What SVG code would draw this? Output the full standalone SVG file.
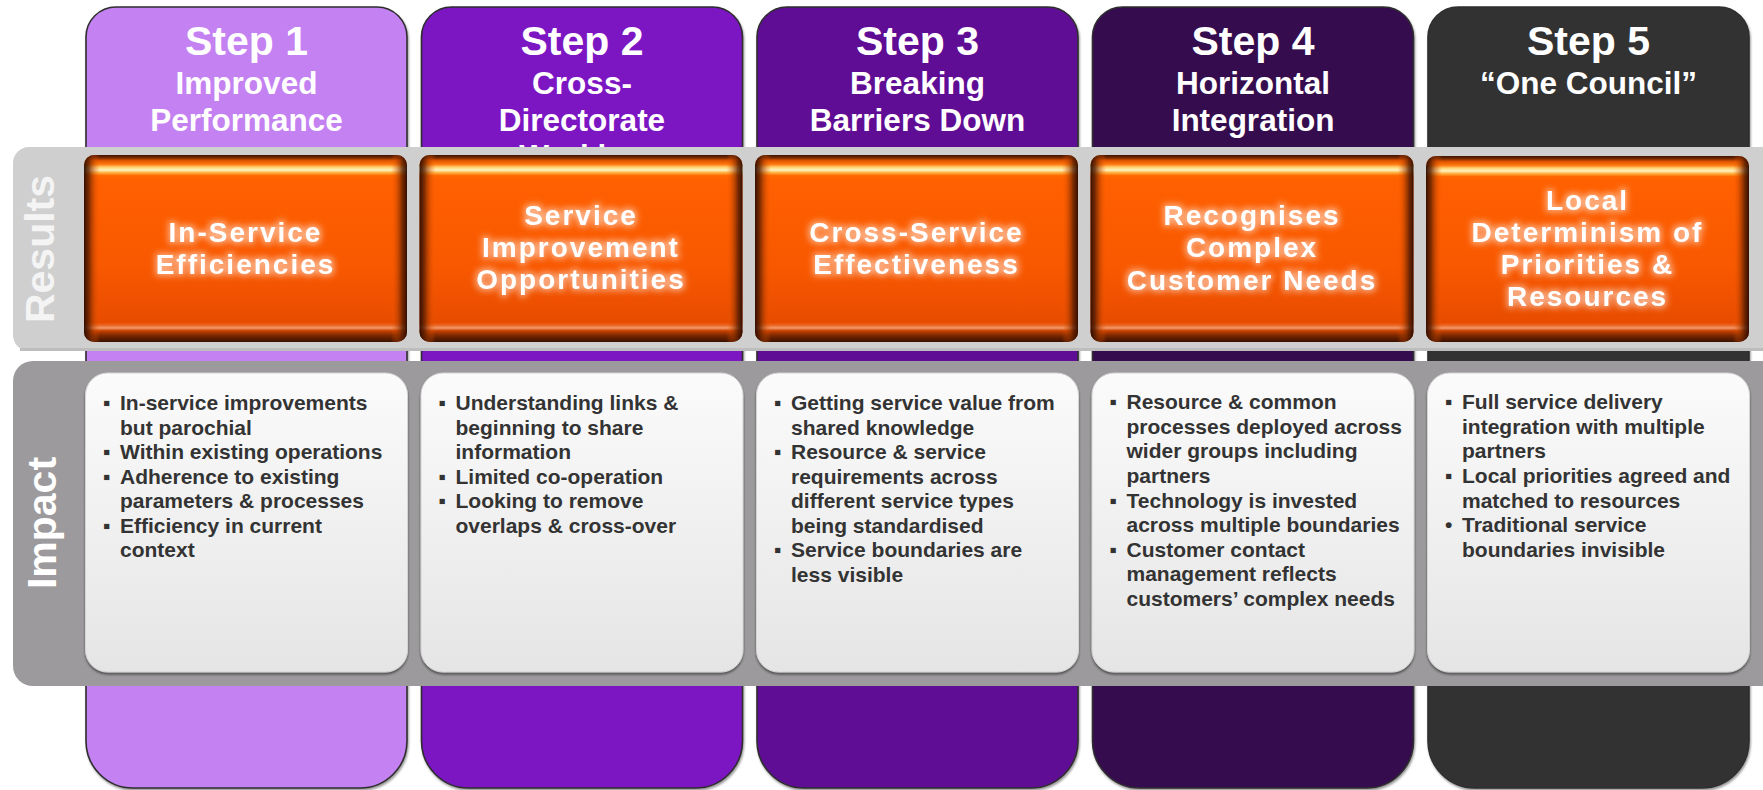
<svg xmlns="http://www.w3.org/2000/svg" width="1763" height="790" viewBox="0 0 1763 790">
<defs>
<style>
.ttl{font-family:"Liberation Sans",Arial,sans-serif;font-weight:bold;fill:#ffffff;text-anchor:middle}
.big{font-size:41px}
.sub{font-size:31.5px}
.res{font-family:"Liberation Sans",Arial,sans-serif;font-weight:bold;font-size:28px;letter-spacing:2px;fill:#ffffff;text-anchor:middle}
.side{font-family:"Liberation Sans",Arial,sans-serif;font-weight:bold;font-size:41px;text-anchor:middle}
.imp{font-family:"Liberation Sans",Arial,sans-serif;font-weight:bold;font-size:21px;fill:#333333}
.bul{font-family:"Liberation Sans",Arial,sans-serif;font-weight:bold;font-size:21px;fill:#333333}
.col{stroke:#2e2e2e;stroke-width:1.6}
</style>
<linearGradient id="og" x1="0" y1="0" x2="0" y2="1">
<stop offset="0" stop-color="#3a1200"/>
<stop offset="0.015" stop-color="#7a2a00"/>
<stop offset="0.03" stop-color="#e05400"/>
<stop offset="0.05" stop-color="#ff7a10"/>
<stop offset="0.065" stop-color="#ffd070"/>
<stop offset="0.08" stop-color="#fff4c0"/>
<stop offset="0.095" stop-color="#ffb040"/>
<stop offset="0.11" stop-color="#ff6a00"/>
<stop offset="0.13" stop-color="#ff6000"/>
<stop offset="0.6" stop-color="#f85800"/>
<stop offset="0.895" stop-color="#e84c00"/>
<stop offset="0.91" stop-color="#ea6424"/>
<stop offset="0.925" stop-color="#f39a6a"/>
<stop offset="0.94" stop-color="#c84000"/>
<stop offset="0.965" stop-color="#7a2800"/>
<stop offset="1" stop-color="#3a1000"/>
</linearGradient>
<linearGradient id="oside" x1="0" y1="0" x2="1" y2="0">
<stop offset="0" stop-color="#2a0a00" stop-opacity="0.95"/>
<stop offset="0.015" stop-color="#5a1e00" stop-opacity="0.8"/>
<stop offset="0.035" stop-color="#c04400" stop-opacity="0.35"/>
<stop offset="0.05" stop-color="#ff6000" stop-opacity="0"/>
<stop offset="0.95" stop-color="#ff6000" stop-opacity="0"/>
<stop offset="0.965" stop-color="#c04400" stop-opacity="0.35"/>
<stop offset="0.985" stop-color="#5a1e00" stop-opacity="0.8"/>
<stop offset="1" stop-color="#2a0a00" stop-opacity="0.95"/>
</linearGradient>
<linearGradient id="ig" x1="0" y1="0" x2="0" y2="1">
<stop offset="0" stop-color="#fbfbfb"/>
<stop offset="1" stop-color="#e5e5e5"/>
</linearGradient>
<filter id="glow" x="-20%" y="-40%" width="140%" height="180%">
<feMorphology in="SourceAlpha" operator="dilate" radius="2" result="d"/>
<feGaussianBlur in="d" stdDeviation="3" result="b"/>
<feFlood flood-color="#ffffff" flood-opacity="0.5"/>
<feComposite in2="b" operator="in" result="g"/>
<feMerge><feMergeNode in="g"/><feMergeNode in="SourceGraphic"/></feMerge>
</filter>
<filter id="shd" x="-5%" y="-5%" width="110%" height="110%">
<feDropShadow dx="0" dy="2" stdDeviation="1" flood-color="#222222" flood-opacity="0.6"/>
</filter>
<filter id="cshd" x="-5%" y="-5%" width="110%" height="110%">
<feDropShadow dx="1" dy="2" stdDeviation="1.2" flood-color="#555555" flood-opacity="0.6"/>
</filter>
</defs>

<rect width="1763" height="790" fill="#ffffff"/>

<g id="columns">
<g id="step1-column">
<path class="col" filter="url(#cshd)" fill="#c481f2" d="M86,37 A30,30 0 0 1 116,7 H377 A30,30 0 0 1 407,37 V741 A47,47 0 0 1 360,788 H133 A47,47 0 0 1 86,741 Z"/>
<text class="ttl big" x="246.5" y="55">Step 1</text>
<text class="ttl sub" x="246.5" y="94">Improved</text>
<text class="ttl sub" x="246.5" y="131">Performance</text>
</g>
<g id="step2-column">
<path class="col" filter="url(#cshd)" fill="#7b13c3" d="M421.5,37 A30,30 0 0 1 451.5,7 H712.5 A30,30 0 0 1 742.5,37 V741 A47,47 0 0 1 695.5,788 H468.5 A47,47 0 0 1 421.5,741 Z"/>
<text class="ttl big" x="582" y="55">Step 2</text>
<text class="ttl sub" x="582" y="94">Cross-</text>
<text class="ttl sub" x="582" y="131">Directorate</text>
<text class="ttl sub" x="582" y="167">Working</text>
</g>
<g id="step3-column">
<path class="col" filter="url(#cshd)" fill="#5e0f95" d="M757,37 A30,30 0 0 1 787,7 H1048 A30,30 0 0 1 1078,37 V741 A47,47 0 0 1 1031,788 H804 A47,47 0 0 1 757,741 Z"/>
<text class="ttl big" x="917.5" y="55">Step 3</text>
<text class="ttl sub" x="917.5" y="94">Breaking</text>
<text class="ttl sub" x="917.5" y="131">Barriers Down</text>
</g>
<g id="step4-column">
<path class="col" filter="url(#cshd)" fill="#360a50" d="M1092.5,37 A30,30 0 0 1 1122.5,7 H1383.5 A30,30 0 0 1 1413.5,37 V741 A47,47 0 0 1 1366.5,788 H1139.5 A47,47 0 0 1 1092.5,741 Z"/>
<text class="ttl big" x="1253" y="55">Step 4</text>
<text class="ttl sub" x="1253" y="94">Horizontal</text>
<text class="ttl sub" x="1253" y="131">Integration</text>
</g>
<g id="step5-column">
<path class="col" filter="url(#cshd)" fill="#333333" d="M1428,37 A30,30 0 0 1 1458,7 H1719 A30,30 0 0 1 1749,37 V741 A47,47 0 0 1 1702,788 H1475 A47,47 0 0 1 1428,741 Z"/>
<text class="ttl big" x="1588.5" y="55">Step 5</text>
<text class="ttl sub" x="1588.5" y="94">“One Council”</text>
</g>
</g>

<g id="results-band">
<rect x="13" y="147" width="1780" height="204" rx="16" fill="#cfcfcf"/>
<rect x="20" y="348" width="1760" height="3" fill="#bdbdbd"/>
<text class="side" fill="#f4f4f4" transform="translate(54,249) rotate(-90)">Results</text>
</g>

<g id="results-boxes">
<g id="result1">
<rect x="84" y="155" width="323" height="187" rx="10" fill="url(#og)"/>
<rect x="84" y="155" width="323" height="187" rx="10" fill="url(#oside)"/>
<g filter="url(#glow)"><text class="res" x="245.5" y="242">In-Service</text><text class="res" x="245.5" y="274">Efficiencies</text></g>
</g>
<g id="result2">
<rect x="419.5" y="155" width="323" height="187" rx="10" fill="url(#og)"/>
<rect x="419.5" y="155" width="323" height="187" rx="10" fill="url(#oside)"/>
<g filter="url(#glow)"><text class="res" x="581" y="225">Service</text><text class="res" x="581" y="257">Improvement</text><text class="res" x="581" y="289">Opportunities</text></g>
</g>
<g id="result3">
<rect x="755" y="155" width="323" height="187" rx="10" fill="url(#og)"/>
<rect x="755" y="155" width="323" height="187" rx="10" fill="url(#oside)"/>
<g filter="url(#glow)"><text class="res" x="916.5" y="242">Cross-Service</text><text class="res" x="916.5" y="274">Effectiveness</text></g>
</g>
<g id="result4">
<rect x="1090.5" y="155" width="323" height="187" rx="10" fill="url(#og)"/>
<rect x="1090.5" y="155" width="323" height="187" rx="10" fill="url(#oside)"/>
<g filter="url(#glow)"><text class="res" x="1252" y="225">Recognises</text><text class="res" x="1252" y="257">Complex</text><text class="res" x="1252" y="290">Customer Needs</text></g>
</g>
<g id="result5">
<rect x="1426" y="156" width="323" height="186" rx="10" fill="url(#og)"/>
<rect x="1426" y="156" width="323" height="186" rx="10" fill="url(#oside)"/>
<g filter="url(#glow)"><text class="res" x="1587.5" y="210">Local</text><text class="res" x="1587.5" y="242">Determinism of</text><text class="res" x="1587.5" y="274">Priorities &amp;</text><text class="res" x="1587.5" y="306">Resources</text></g>
</g>
</g>

<g id="impact-band">
<rect x="13" y="361" width="1780" height="325" rx="20" fill="#9c9a9c"/>
<text class="side" fill="#ffffff" transform="translate(56,523) rotate(-90)">Impact</text>
</g>

<g id="impact-boxes">
<g id="impact1">
<rect x="85.5" y="373" width="322" height="299" rx="22" fill="url(#ig)" stroke="#d4d4d4" stroke-width="1" filter="url(#shd)"/>
<text class="bul" x="103" y="410">▪</text><text class="bul" x="103" y="459">▪</text><text class="bul" x="103" y="483.5">▪</text><text class="bul" x="103" y="532.5">▪</text>
<text class="imp"><tspan x="120" y="410">In-service improvements</tspan><tspan x="120" y="434.5">but parochial</tspan><tspan x="120" y="459">Within existing operations</tspan><tspan x="120" y="483.5">Adherence to existing</tspan><tspan x="120" y="508">parameters &amp; processes</tspan><tspan x="120" y="532.5">Efficiency in current</tspan><tspan x="120" y="557">context</tspan></text>
</g>
<g id="impact2">
<rect x="421" y="373" width="322" height="299" rx="22" fill="url(#ig)" stroke="#d4d4d4" stroke-width="1" filter="url(#shd)"/>
<text class="bul" x="438.5" y="410">▪</text><text class="bul" x="438.5" y="483.5">▪</text><text class="bul" x="438.5" y="508">▪</text>
<text class="imp"><tspan x="455.5" y="410">Understanding links &amp;</tspan><tspan x="455.5" y="434.5">beginning to share</tspan><tspan x="455.5" y="459">information</tspan><tspan x="455.5" y="483.5">Limited co-operation</tspan><tspan x="455.5" y="508">Looking to remove</tspan><tspan x="455.5" y="532.5">overlaps &amp; cross-over</tspan></text>
</g>
<g id="impact3">
<rect x="756.5" y="373" width="322" height="299" rx="22" fill="url(#ig)" stroke="#d4d4d4" stroke-width="1" filter="url(#shd)"/>
<text class="bul" x="774" y="410">▪</text><text class="bul" x="774" y="459">▪</text><text class="bul" x="774" y="557">▪</text>
<text class="imp"><tspan x="791" y="410">Getting service value from</tspan><tspan x="791" y="434.5">shared knowledge</tspan><tspan x="791" y="459">Resource &amp; service</tspan><tspan x="791" y="483.5">requirements across</tspan><tspan x="791" y="508">different service types</tspan><tspan x="791" y="532.5">being standardised</tspan><tspan x="791" y="557">Service boundaries are</tspan><tspan x="791" y="581.5">less visible</tspan></text>
</g>
<g id="impact4">
<rect x="1092" y="373" width="322" height="299" rx="22" fill="url(#ig)" stroke="#d4d4d4" stroke-width="1" filter="url(#shd)"/>
<text class="bul" x="1109.5" y="409">▪</text><text class="bul" x="1109.5" y="507.5">▪</text><text class="bul" x="1109.5" y="556.5">▪</text>
<text class="imp"><tspan x="1126.5" y="409">Resource &amp; common</tspan><tspan x="1126.5" y="433.5">processes deployed across</tspan><tspan x="1126.5" y="458">wider groups including</tspan><tspan x="1126.5" y="482.5">partners</tspan><tspan x="1126.5" y="507.5">Technology is invested</tspan><tspan x="1126.5" y="532">across multiple boundaries</tspan><tspan x="1126.5" y="556.5">Customer contact</tspan><tspan x="1126.5" y="581">management reflects</tspan><tspan x="1126.5" y="605.5">customers’ complex needs</tspan></text>
</g>
<g id="impact5">
<rect x="1427.5" y="373" width="322" height="299" rx="22" fill="url(#ig)" stroke="#d4d4d4" stroke-width="1" filter="url(#shd)"/>
<text class="bul" x="1445" y="409">▪</text><text class="bul" x="1445" y="483">▪</text><text class="bul" x="1445" y="532">•</text>
<text class="imp"><tspan x="1462" y="409">Full service delivery</tspan><tspan x="1462" y="433.5">integration with multiple</tspan><tspan x="1462" y="458">partners</tspan><tspan x="1462" y="483">Local priorities agreed and</tspan><tspan x="1462" y="507.5">matched to resources</tspan><tspan x="1462" y="532">Traditional service</tspan><tspan x="1462" y="556.5">boundaries invisible</tspan></text>
</g>
</g>

<g id="connectors"></g>
</svg>
